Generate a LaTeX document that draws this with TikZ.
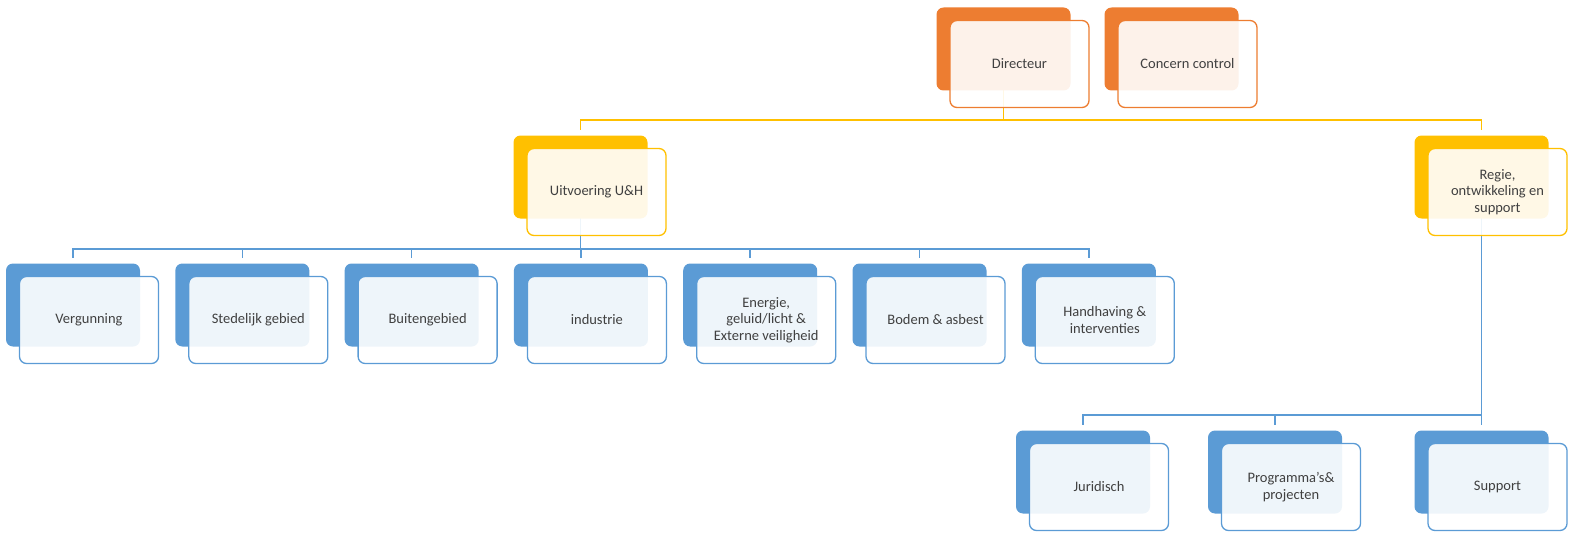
\documentclass[tikz,border=0pt]{standalone}
\usepackage{fontspec}
\setmainfont{Carlito}
\usetikzlibrary{positioning,backgrounds}

\definecolor{orgOrange}{HTML}{ED7D31}
\definecolor{orgGold}{HTML}{FFC000}
\definecolor{orgBlue}{HTML}{5B9BD5}
\definecolor{orgText}{HTML}{404040}

\tikzset{
  backbox/.style={rounded corners=7pt,minimum width=134pt,minimum height=83pt,inner sep=0pt,fill=#1},
  frontbox/.style={rounded corners=7pt,minimum width=139pt,minimum height=87pt,inner sep=0pt,
    draw=#1,line width=1.3pt,fill=white,fill opacity=0.9,text opacity=1,text=orgText,
    align=center,font=\fontsize{14.5}{16.5}\selectfont},
  yline/.style={orgGold,line width=1.8pt},
  bline/.style={orgBlue,line width=1.5pt}
}

\begin{document}
\begin{tikzpicture}[x=1pt,y=-1pt]
\useasboundingbox (0,0) rectangle (1575,535);

\node[backbox=orgOrange] (Dir1) at (1003.5,49) {};
\node[frontbox=orgOrange] (Dir2) at ([shift={(16,15)}]Dir1) {Directeur};
\node[backbox=orgOrange] (Con1) at (1171.5,49) {};
\node[frontbox=orgOrange] (Con2) at ([shift={(16,15)}]Con1) {Concern control};

\node[backbox=orgGold] (Uit1) at (580.5,177) {};
\node[frontbox=orgGold] (Uit2) at ([shift={(16,15)}]Uit1) {Uitvoering U\&H};
\node[backbox=orgGold] (Reg1) at (1481.5,177) {};
\node[frontbox=orgGold] (Reg2) at ([shift={(16,15)}]Reg1) {Regie,\\ontwikkeling en\\support};

\foreach \n/\x/\t in {Verg/73/Vergunning,Sted/242.3/Stedelijk gebied,Buit/411.6/Buitengebied,
    Indu/580.9/industrie,Ener/750.2/{Energie,\\geluid/licht \&\\Externe veiligheid},
    Bode/919.5/Bodem \& asbest,Hand/1088.8/{Handhaving \&\\interventies}}{
  \node[backbox=orgBlue] (\n1) at (\x,305) {};
  \node[frontbox=orgBlue] (\n2) at ([shift={(16,15)}]\n1) {\t};
}

\node[backbox=orgBlue] (Juri1) at (1083,472) {};
\node[frontbox=orgBlue] (Juri2) at ([shift={(16,15)}]Juri1) {Juridisch};
\node[backbox=orgBlue] (Prog1) at (1275,472) {};
\node[frontbox=orgBlue] (Prog2) at ([shift={(16,15)}]Prog1) {Programma’s\&\\projecten};
\node[backbox=orgBlue] (Supp1) at (1481.5,472) {};
\node[frontbox=orgBlue] (Supp2) at ([shift={(16,15)}]Supp1) {Support};

\coordinate (topbus) at (0,120);
\coordinate (midbus) at (0,249);
\coordinate (lowbus) at (0,415);

\begin{scope}[on background layer]
\draw[yline] (Dir1.center) -- (Dir1.center |- topbus);
\foreach \n in {Uit,Reg}
  \draw[yline,shorten >=5pt] (Dir1.center |- topbus) -| (\n1.north);
\draw[bline] (Uit1.center) -- (Uit1.center |- midbus);
\foreach \n in {Verg,Sted,Buit,Indu,Ener,Bode,Hand}
  \draw[bline,shorten >=5pt] (Uit1.center |- midbus) -| (\n1.north);
\draw[bline] (Reg1.center) -- (Reg1.center |- lowbus);
\foreach \n in {Juri,Prog,Supp}
  \draw[bline,shorten >=5pt] (Reg1.center |- lowbus) -| (\n1.north);
\end{scope}
\end{tikzpicture}
\end{document}
